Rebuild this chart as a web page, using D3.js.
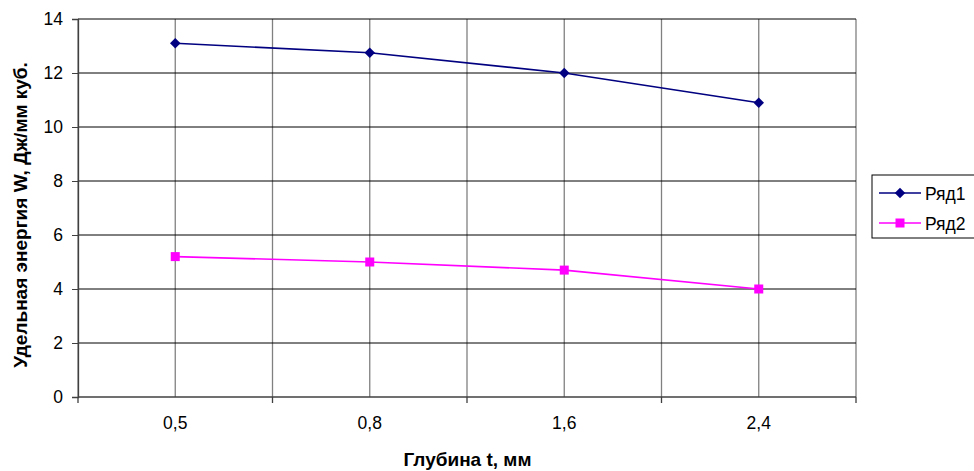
<!DOCTYPE html>
<html lang="ru">
<head>
<meta charset="utf-8">
<script src="https://d3js.org/d3.v7.min.js"></script>
<style>
body { margin: 0; background: #fff; }
text { font-family: "Liberation Sans", Arial, sans-serif; fill: #000; }
</style>
</head>
<body>
<div id="chart"></div>
<script>
// data
var categories = ["0,5", "0,8", "1,6", "2,4"];
var row1 = [13.1, 12.75, 12.0, 10.9];
var row2 = [5.2, 5.0, 4.7, 4.0];
var yTicks = [0, 2, 4, 6, 8, 10, 12, 14];
var seriesNames = ["Ряд1", "Ряд2"];

var W = 974, H = 471;
var margin = {top: 19, right: 118, bottom: 74, left: 78};
var width = W - margin.left - margin.right,
    height = H - margin.top - margin.bottom;

var svg = d3.select("#chart").append("svg")
    .attr("width", W).attr("height", H);
var g = svg.append("g")
    .attr("transform", "translate(" + margin.left + "," + margin.top + ")");

var x = d3.scaleBand().domain(categories).range([0, width]);
var y = d3.scaleLinear().domain([0, 14]).range([height, 0]);

// vertical grid: band edges and band centres
var vLines = [];
categories.forEach(function(c) {
  vLines.push(x(c));
  vLines.push(x(c) + x.bandwidth() / 2);
});
vLines.push(width);
g.selectAll(".vgrid").data(vLines).enter().append("line")
  .attr("x1", function(d) { return d; }).attr("x2", function(d) { return d; })
  .attr("y1", 0).attr("y2", height)
  .attr("stroke", "#808080").attr("stroke-width", 1.3);

// horizontal grid
g.selectAll(".hgrid").data(yTicks.slice(1)).enter().append("line")
  .attr("x1", 0).attr("x2", width)
  .attr("y1", function(d) { return y(d); }).attr("y2", function(d) { return y(d); })
  .attr("stroke", "#000").attr("stroke-width", 1);

// y axis
var yAxis = g.append("g").call(d3.axisLeft(y).tickValues(yTicks).tickSize(6).tickPadding(9));
yAxis.select(".domain").attr("stroke", "#404040").attr("stroke-width", 1.3);
yAxis.selectAll(".tick line").attr("stroke", "#404040");
yAxis.selectAll("text").style("font-size", "17.5px").style("font-family", "Liberation Sans, Arial, sans-serif");

// x axis: ticks at band edges, labels at centres
var xAxis = g.append("g").attr("transform", "translate(0," + height + ")");
xAxis.append("line").attr("x1", 0).attr("x2", width)
  .attr("stroke", "#404040").attr("stroke-width", 1.3);
xAxis.selectAll(".xt").data(vLines.filter(function(d, i) { return i % 2 === 0 || d === width; }))
  .enter().append("line")
  .attr("x1", function(d) { return d; }).attr("x2", function(d) { return d; })
  .attr("y1", 0).attr("y2", 6)
  .attr("stroke", "#404040").attr("stroke-width", 1.3);
xAxis.selectAll(".xl").data(categories).enter().append("text")
  .attr("x", function(d) { return x(d) + x.bandwidth() / 2; })
  .attr("y", 32)
  .attr("text-anchor", "middle")
  .style("font-size", "17.5px")
  .text(function(d) { return d; });

// axis titles
svg.append("text")
  .attr("x", margin.left + width / 2 + 0.5).attr("y", 466)
  .attr("text-anchor", "middle")
  .style("font-size", "19px").style("font-weight", "bold")
  .text("Глубина t, мм");
svg.append("text")
  .attr("transform", "translate(27," + 215 + ") rotate(-90)")
  .attr("text-anchor", "middle")
  .style("font-size", "19px").style("font-weight", "bold")
  .text("Удельная энергия W, Дж/мм куб.");

var cx = function(d, i) { return x(categories[i]) + x.bandwidth() / 2; };
var line = d3.line().x(cx).y(function(d) { return y(d); });
var diamond = d3.symbol().type(d3.symbolDiamond2).size(70);

// series 1
g.append("path").datum(row1).attr("d", line)
  .attr("fill", "none").attr("stroke", "#000080").attr("stroke-width", 1.6);
g.selectAll(".m1").data(row1).enter().append("path")
  .attr("d", diamond)
  .attr("transform", function(d, i) { return "translate(" + cx(d, i) + "," + y(d) + ")"; })
  .attr("fill", "#000080");

// series 2
g.append("path").datum(row2).attr("d", line)
  .attr("fill", "none").attr("stroke", "#ff00ff").attr("stroke-width", 1.6);
g.selectAll(".m2").data(row2).enter().append("rect")
  .attr("x", function(d, i) { return cx(d, i) - 4.5; })
  .attr("y", function(d) { return y(d) - 4.5; })
  .attr("width", 9).attr("height", 9)
  .attr("fill", "#ff00ff");

// legend
var lg = svg.append("g").attr("transform", "translate(872,175)");
lg.append("rect").attr("x", 0).attr("y", 0).attr("width", 110).attr("height", 63)
  .attr("fill", "#fff").attr("stroke", "#000").attr("stroke-width", 1);
var colors = ["#000080", "#ff00ff"];
seriesNames.forEach(function(name, i) {
  var yy = 18 + i * 30;
  lg.append("line").attr("x1", 7).attr("x2", 49).attr("y1", yy).attr("y2", yy)
    .attr("stroke", colors[i]).attr("stroke-width", 1.6);
  if (i === 0) {
    lg.append("path").attr("d", diamond)
      .attr("transform", "translate(28," + yy + ")").attr("fill", colors[i]);
  } else {
    lg.append("rect").attr("x", 23.5).attr("y", yy - 4.5).attr("width", 9).attr("height", 9)
      .attr("fill", colors[i]);
  }
  lg.append("text").attr("x", 53).attr("y", yy + 6.5)
    .style("font-size", "17.5px").text(name);
});
</script>
</body>
</html>
